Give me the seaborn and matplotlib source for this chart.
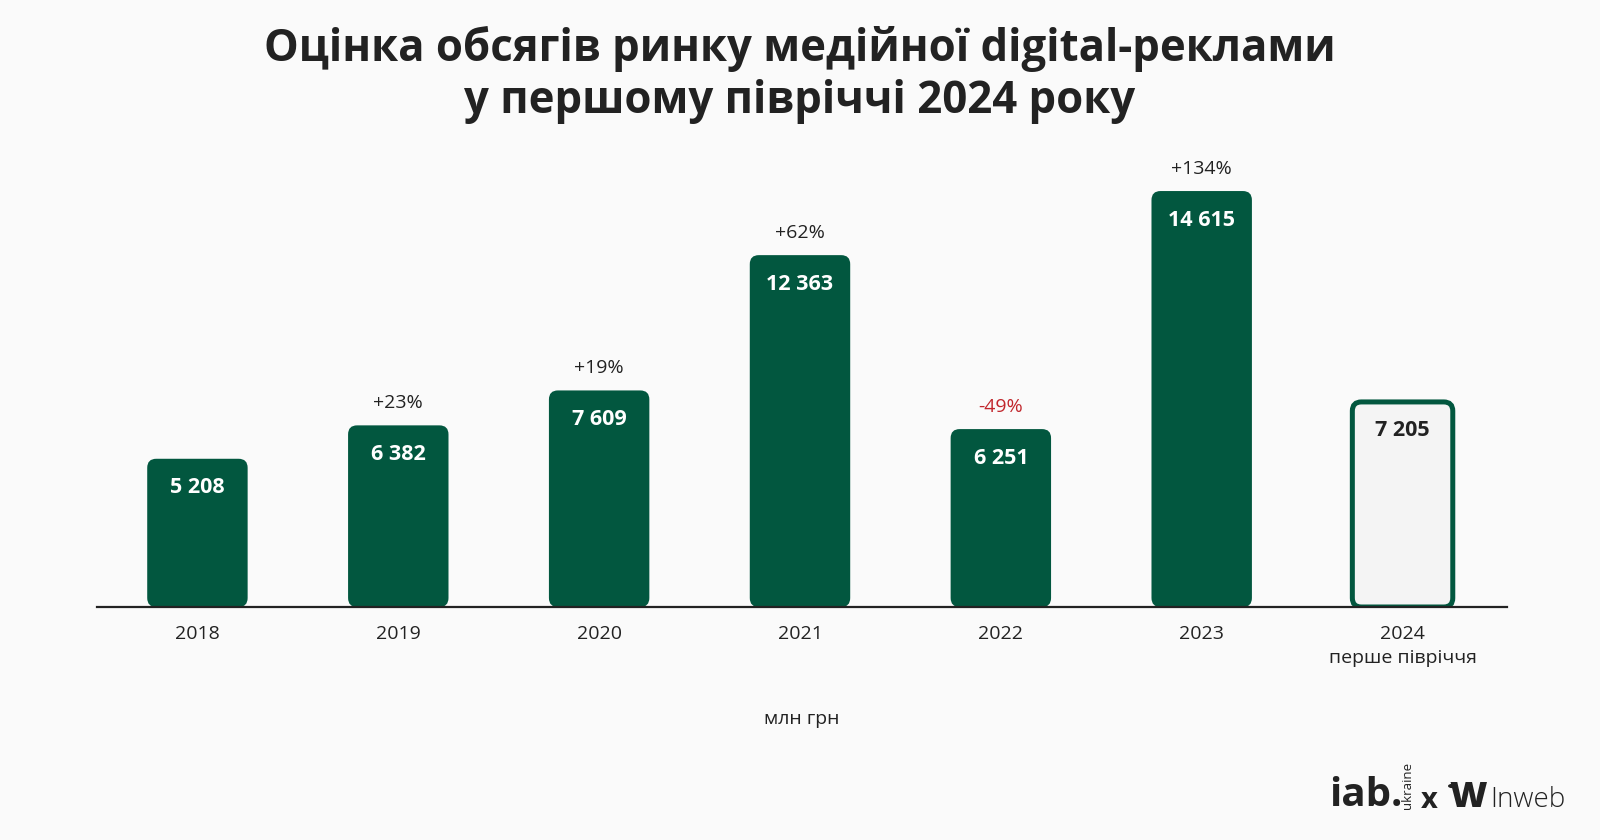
import matplotlib
matplotlib.use("Agg")
import matplotlib.pyplot as plt
import seaborn as sns
import pandas as pd
from matplotlib.patches import FancyBboxPatch, Circle

years = ["2018", "2019", "2020", "2021", "2022", "2023", "2024"]
tick_labels = ["2018", "2019", "2020", "2021", "2022", "2023", "2024\nперше півріччя"]
values = [5208, 6382, 7609, 12363, 6251, 14615, 7205]
value_labels = ["5 208", "6 382", "7 609", "12 363", "6 251", "14 615", "7 205"]
growth_labels = ["", "+23%", "+19%", "+62%", "-49%", "+134%", ""]
title = "Оцінка обсягів ринку медійної digital-реклами\nу першому півріччі 2024 року"
unit_label = "млн грн"

GREEN = "#02573f"
RED = "#c1272d"
DARK = "#222222"
BG = "#fafafa"

sns.set_theme(style="white")
plt.rcParams["font.family"] = ["Open Sans", "DejaVu Sans"]

fig = plt.figure(figsize=(16, 8.4), dpi=100, facecolor=BG)
ax = fig.add_axes([97 / 1600, (840 - 607) / 840, 1410 / 1600, 457 / 840])
ax.set_facecolor(BG)

df = pd.DataFrame({"year": years, "value": values})
sns.barplot(data=df, x="year", y="value", order=years, color=GREEN, width=0.5,
            saturation=1, ax=ax)

ax.set_xlim(-0.5, 6.52)
ax.set_ylim(0, 16057)

# replace rectangles with rounded bars
px_per_x = 1410 / 7.02
px_per_y = 457 / 16057
r_x = 9 / px_per_x
aspect = (9 / px_per_y) / r_x
patches = list(ax.patches)
for i, p in enumerate(patches):
    x0, y0, w, h = p.get_x(), p.get_y(), p.get_width(), p.get_height()
    p.remove()
    last = i == len(patches) - 1
    if last:
        fb = FancyBboxPatch((x0, y0), w, h,
                            boxstyle=f"round,pad=0,rounding_size={r_x}",
                            mutation_aspect=aspect, facecolor="#f4f4f4",
                            edgecolor=GREEN, linewidth=3.6, zorder=2)
    else:
        fb = FancyBboxPatch((x0, y0), w, h,
                            boxstyle=f"round,pad=0,rounding_size={r_x}",
                            mutation_aspect=aspect, facecolor=GREEN,
                            edgecolor="none", zorder=2)
    ax.add_patch(fb)
    cx = x0 + w / 2
    ax.annotate(value_labels[i], (cx, h), xytext=(0, -29), textcoords="offset pixels",
                ha="center", va="center", fontsize=15.5, fontweight="bold",
                color=DARK if last else "white", zorder=3)
    if growth_labels[i]:
        ax.annotate(growth_labels[i], (cx, h), xytext=(0, 22), textcoords="offset pixels",
                    ha="center", va="center", fontsize=14,
                    color=RED if growth_labels[i].startswith("-") else DARK, zorder=3)

for s in ["top", "right", "left"]:
    ax.spines[s].set_visible(False)
ax.spines["bottom"].set_color(DARK)
ax.spines["bottom"].set_linewidth(1.6)
ax.spines["bottom"].set_zorder(4)
ax.set_yticks([])
ax.set_xticks(range(len(years)))
ax.set_xticklabels(tick_labels, fontsize=14, color=DARK, linespacing=1.4, va="top")
ax.tick_params(axis="x", length=0, pad=13)
ax.set_xlabel("")
ax.set_ylabel("")

fig.text(800 / 1600, 1 - 75 / 840, title, ha="center", va="center", fontsize=31.5,
         fontweight="bold", color=DARK, linespacing=1.2)
fig.text(802 / 1600, 1 - 719 / 840, unit_label, ha="center", va="center", fontsize=14,
         color=DARK)

# logos as text
fig.text(1329 / 1600, 1 - 795 / 840, "iab.", ha="left", va="center", fontsize=29,
         fontweight="bold", color=DARK)
fig.text(1407 / 1600, 1 - 785 / 840, "ukraine", ha="center", va="center", fontsize=9.5,
         rotation=90, color=DARK)
fig.text(1429 / 1600, 1 - 801 / 840, "x", ha="center", va="center", fontsize=21,
         fontweight="bold", color=DARK)
fig.text(1449 / 1600, 1 - 798 / 840, "W", ha="left", va="center", fontsize=26,
         fontweight="heavy", color=DARK)
fig.add_artist(Circle((1452 / 1600, 1 - 786 / 840), 4 / 1600, transform=fig.transFigure,
                      facecolor=DARK, edgecolor="none"))
fig.text(1490 / 1600, 1 - 800 / 840, "Inweb", ha="left", va="center", fontsize=20,
         fontweight="light", color=DARK)

fig.savefig("out.png", dpi=100, facecolor=BG)
